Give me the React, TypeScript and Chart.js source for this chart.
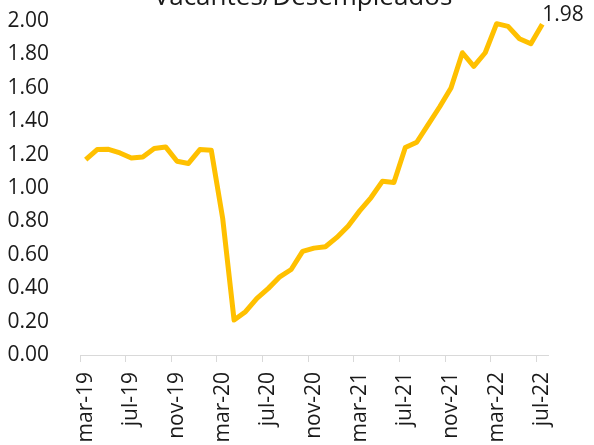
import React, { useEffect, useRef } from "react";
import { Chart, registerables } from "chart.js";

Chart.register(...registerables);

const MONTHS = ["ene", "feb", "mar", "abr", "may", "jun", "jul", "ago", "sep", "oct", "nov", "dic"];

// mar-19 .. jul-22 (41 months)
const categories: string[] = [];
for (let y = 2019, m = 2; y < 2022 || (y === 2022 && m <= 6); ) {
  categories.push(`${MONTHS[m]}-${String(y).slice(2)}`);
  m++;
  if (m === 12) { m = 0; y++; }
}

const ratioValues = [
  1.17, 1.23, 1.232, 1.21, 1.18, 1.186, 1.236, 1.246, 1.16, 1.147, 1.23, 1.226,
  0.818, 0.209, 0.259, 0.339, 0.399, 0.468, 0.512, 0.62, 0.64, 0.648,
  0.704, 0.773, 0.863, 0.943, 1.041, 1.033, 1.243, 1.274, 1.38, 1.485,
  1.599, 1.81, 1.728, 1.81, 1.984, 1.968, 1.894, 1.864, 1.98,
];

const titleText = "Vacantes/Desempleados";
const lastLabel = "1.98";
const FONT = "'Open Sans', 'Noto Sans', sans-serif";
const LINE_COLOR = "#FFC000";

const overlayPlugin = {
  id: "overlay",
  afterDraw(chart: any) {
    const ctx = chart.ctx;
    ctx.save();
    ctx.fillStyle = "#1a1a1a";
    ctx.font = `26px ${FONT}`;
    ctx.textAlign = "center";
    ctx.textBaseline = "alphabetic";
    ctx.fillText(titleText, 303, 5);
    const meta = chart.getDatasetMeta(0);
    const pt = meta.data[meta.data.length - 1];
    ctx.font = `21px ${FONT}`;
    ctx.textAlign = "left";
    ctx.textBaseline = "middle";
    ctx.fillText(lastLabel, pt.x, pt.y - 9);
    ctx.restore();
  },
};

export default function App() {
  const ref = useRef<HTMLCanvasElement | null>(null);
  useEffect(() => {
    if (!ref.current) return;
    const chart = new Chart(ref.current, {
      type: "line",
      data: {
        labels: categories,
        datasets: [
          {
            data: ratioValues,
            borderColor: LINE_COLOR,
            backgroundColor: LINE_COLOR,
            borderWidth: 5,
            pointRadius: 0,
            tension: 0,
            borderJoinStyle: "round",
            borderCapStyle: "butt",
            fill: false,
          },
        ],
      },
      options: {
        animation: false,
        responsive: false,
        devicePixelRatio: 1,
        layout: { padding: { top: 21, right: 46, left: 0, bottom: 0 } },
        plugins: {
          legend: { display: false },
          tooltip: { enabled: false },
          title: { display: false },
        },
        scales: {
          x: {
            type: "category",
            offset: true,
            grid: {
              offset: true,
              drawOnChartArea: false,
              drawTicks: true,
              tickLength: 7,
              tickColor: (ctx: any) =>
                ctx.index !== undefined && ctx.index % 4 === 0 ? "#d9d9d9" : "rgba(0,0,0,0)",
            },
            border: { display: true, color: "#d9d9d9", width: 1 },
            ticks: {
              autoSkip: false,
              minRotation: 90,
              maxRotation: 90,
              padding: 10,
              color: "#1a1a1a",
              font: { family: FONT, size: 21 },
              callback: (_v: any, i: number) => (i % 4 === 0 ? categories[i] : ""),
            },
            afterFit: (scale: any) => {
              scale.height = 90;
              scale.paddingLeft = 0;
              scale.paddingRight = 0;
            },
          },
          y: {
            min: 0,
            max: 2,
            grid: { display: false },
            border: { display: false },
            ticks: {
              stepSize: 0.2,
              padding: 23,
              color: "#1a1a1a",
              font: { family: FONT, size: 21 },
              callback: (v: any) => Number(v).toFixed(2),
            },
            afterFit: (scale: any) => {
              scale.width = 80;
              scale.paddingTop = 0;
              scale.paddingBottom = 0;
            },
          },
        },
      },
      plugins: [overlayPlugin],
    });
    return () => chart.destroy();
  }, []);
  return (
    <div style={{ position: "absolute", left: 0, top: 0, width: 594, height: 445 }}>
      <canvas ref={ref} width={594} height={445} />
    </div>
  );
}
